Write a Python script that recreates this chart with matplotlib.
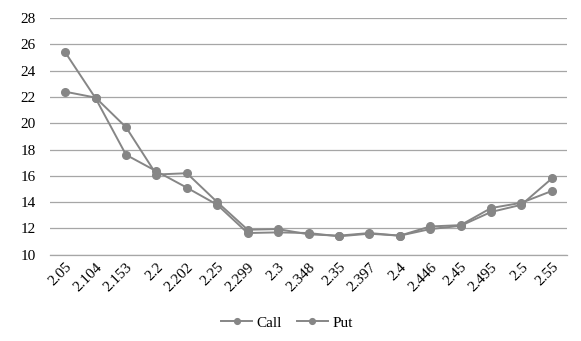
import matplotlib
matplotlib.use("Agg")
import matplotlib.pyplot as plt

# strike prices (category axis)
strikes = ["2.05", "2.104", "2.153", "2.2", "2.202", "2.25", "2.299", "2.3", "2.348",
           "2.35", "2.397", "2.4", "2.446", "2.45", "2.495", "2.5", "2.55"]

# implied volatility (%)
call_iv = [22.4, 21.95, 19.7, 16.1, 16.2, 14.0, 11.9, 11.95, 11.55, 11.45,
           11.65, 11.45, 12.15, 12.25, 13.55, 13.95, 14.85]
put_iv = [25.4, 21.9, 17.6, 16.35, 15.1, 13.8, 11.65, 11.7, 11.65, 11.4,
          11.6, 11.45, 11.95, 12.2, 13.25, 13.8, 15.8]

y_ticks = list(range(10, 29, 2))

plt.rcParams["font.family"] = ["Liberation Serif", "DejaVu Serif"]

fig = plt.figure(figsize=(5.81, 3.41), dpi=100)
ax = fig.add_axes([0.086, 0.253, 0.89, 0.694])

x = list(range(len(strikes)))
line_color = "#868686"
ax.plot(x, call_iv, color=line_color, lw=1.4, marker="o", ms=5.5, label="Call", zorder=3)
ax.plot(x, put_iv, color=line_color, lw=1.4, marker="o", ms=5.5, label="Put", zorder=3)

ax.set_xlim(-0.5, len(strikes) - 0.5)
ax.set_ylim(10, 28)
ax.set_yticks(y_ticks)
ax.set_xticks(x)
ax.set_xticklabels(strikes, rotation=45, ha="right", rotation_mode="anchor")
ax.tick_params(axis="both", length=0, labelsize=11, colors="black")
ax.tick_params(axis="y", pad=10)
ax.tick_params(axis="x", pad=4)

ax.grid(axis="y", color="#a6a6a6", lw=0.9)
ax.set_axisbelow(True)
for side in ["top", "right", "left"]:
    ax.spines[side].set_visible(False)
ax.spines["bottom"].set_color("#a6a6a6")
ax.spines["bottom"].set_linewidth(0.9)

fig.legend(loc="center", bbox_to_anchor=(0.494, 0.053), ncol=2, frameon=False,
           fontsize=11, handlelength=2.0, columnspacing=1.0, handletextpad=0.3,
           markerscale=0.75)

fig.savefig("out.png", dpi=100)
